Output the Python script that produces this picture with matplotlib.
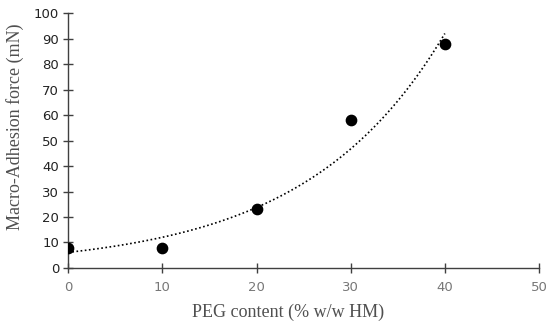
import numpy as np
import matplotlib.pyplot as plt

# data
peg = np.array([0, 10, 20, 30, 40])
force = np.array([8, 8, 23, 58, 88])

# exponential trendline fitted to the points (like excel does)
b, ln_a = np.polyfit(peg, np.log(force), 1)
xfit = np.linspace(0, 40, 200)
yfit = np.exp(ln_a) * np.exp(b * xfit)

fig = plt.figure(figsize=(5.5, 3.28), dpi=100)
ax = fig.add_axes([0.124, 0.183, 0.856, 0.777])

ax.plot(xfit, yfit, color='black', linestyle=(0, (1, 1.5)), linewidth=1.2, zorder=2)
ax.scatter(peg, force, s=55, color='black', zorder=3)

ax.set_xlim(0, 50)
ax.set_ylim(0, 100)
ax.set_xticks(range(0, 51, 10))
ax.set_yticks(range(0, 101, 10))

for s in ['top', 'right']:
    ax.spines[s].set_visible(False)
for s in ['left', 'bottom']:
    ax.spines[s].set_color('#404040')
    ax.spines[s].set_linewidth(1.0)

ax.tick_params(axis='both', direction='inout', length=7, width=1.0, color='#404040')
ax.tick_params(axis='y', labelsize=9.5, labelcolor='#222222', pad=3)
ax.tick_params(axis='x', labelsize=9.5, labelcolor='#777777', pad=6)

ax.set_xlabel('PEG content (% w/w HM)', family='Liberation Serif', fontsize=13,
              color='#505050', va='center')
ax.set_ylabel('Macro-Adhesion force (mN)', family='Liberation Serif', fontsize=13,
              color='#505050', va='center')
ax.xaxis.set_label_coords(0.467, -0.176)
ax.yaxis.set_label_coords(-0.112, 0.553)

fig.savefig('out.png', dpi=100)
